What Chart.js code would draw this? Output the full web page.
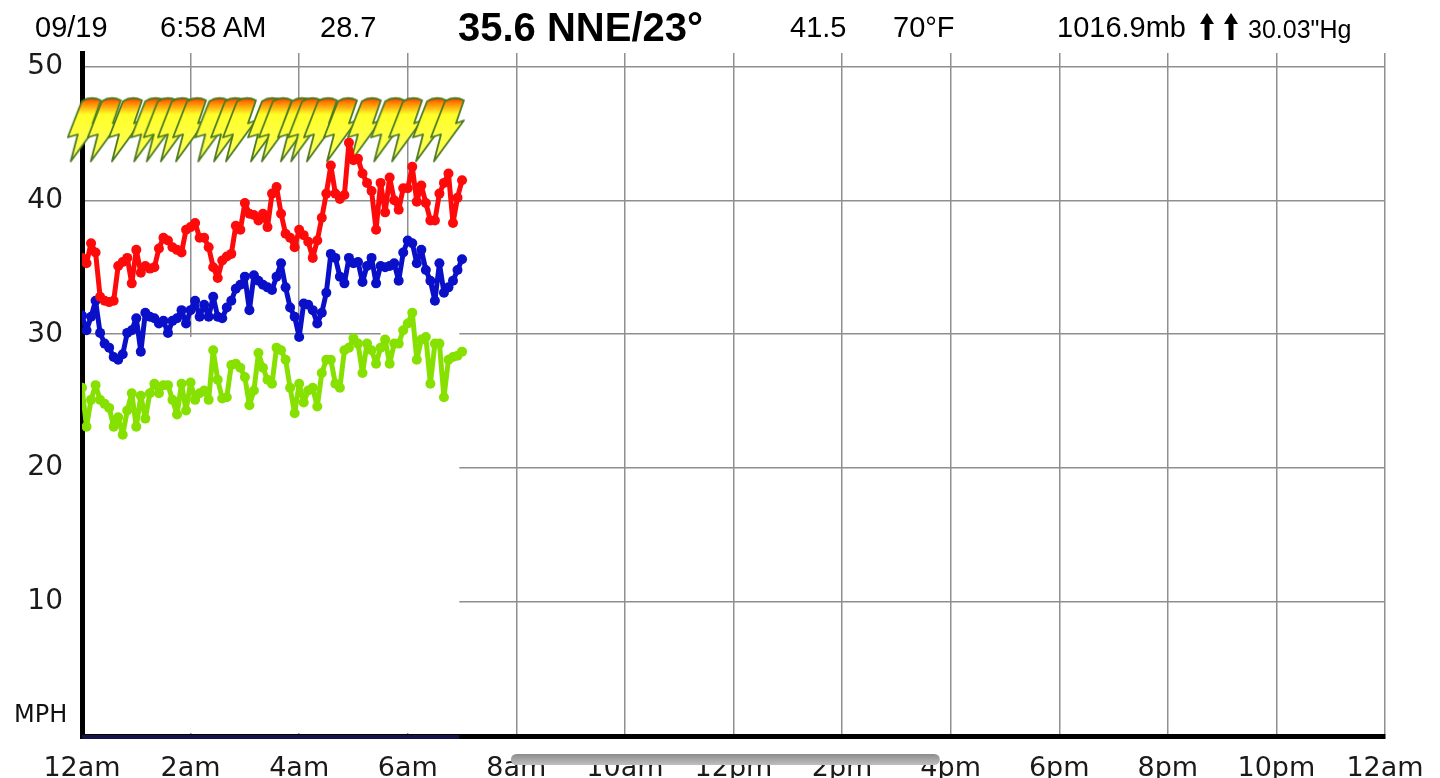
<!DOCTYPE html>
<html>
<head>
<meta charset="utf-8">
<script src="https://cdn.jsdelivr.net/npm/chart.js@4.4.1/dist/chart.umd.min.js"></script>
<style>
  html, body { margin: 0; padding: 0; background: #fff; overflow: hidden; }
  #wrap { position: relative; width: 1440px; height: 778px; overflow: hidden; }
  #chart { position: absolute; left: 0; top: 0; }
  .hd { position: absolute; top: 9px; line-height: 36px; font-family: "Liberation Sans", Arial, sans-serif;
        font-size: 29px; color: #000; white-space: nowrap; }
  .big { font-weight: bold; font-size: 40px; top: 6px; line-height: 42px; }
  .sm { font-size: 25px; top: 11px; }
  .arr { position: absolute; top: 13px; }
  #mph { position: absolute; left: 14px; top: 700px; font-family: "DejaVu Sans", sans-serif; font-size: 24px; color: #111; }
</style>
</head>
<body>
<div id="wrap">
  <canvas id="chart" width="1440" height="800"></canvas>
  <div class="hd" style="left:35px">09/19</div>
  <div class="hd" style="left:160px">6:58 AM</div>
  <div class="hd" style="left:320px">28.7</div>
  <div class="hd big" style="left:458px">35.6 NNE/23°</div>
  <div class="hd" style="left:790px">41.5</div>
  <div class="hd" style="left:893px">70°F</div>
  <div class="hd" style="left:1057px">1016.9mb</div>
  <svg class="arr" style="left:1200px" width="40" height="28" viewBox="0 0 40 28" aria-label="rising">
    <polygon points="7,0 14,11 9.5,11 9.5,27 4.5,27 4.5,11 0,11" fill="#000"/>
    <polygon points="31,0 38,11 33.5,11 33.5,27 28.5,27 28.5,11 24,11" fill="#000"/>
  </svg>
  <div class="hd sm" style="left:1248px">30.03"Hg</div>
  <div id="mph">MPH</div>
</div>
<script>
// sample times, minutes after midnight (5 minute readings)
const sampleMinutes = [0, 5, 10, 15, 20, 25, 30, 35, 40, 45, 50, 55,
  60, 65, 70, 75, 80, 85, 90, 95, 100, 105, 110, 115,
  120, 125, 130, 135, 140, 145, 150, 155, 160, 165, 170, 175,
  180, 185, 190, 195, 200, 205, 210, 215, 220, 225, 230, 235,
  240, 245, 250, 255, 260, 265, 270, 275, 280, 285, 290, 295,
  300, 305, 310, 315, 320, 325, 330, 335, 340, 345, 350, 355,
  360, 365, 370, 375, 380, 385, 390, 395, 400, 405, 410, 415, 420];

// gust (mph)
const gustMph = [35.7, 35.3, 36.8, 36.1, 32.8, 32.5, 32.4, 32.5, 35.1, 35.4,
  35.7, 33.8, 36.3, 34.6, 35.1, 34.9, 35.0, 36.4, 37.2, 37.0,
  36.5, 36.3, 36.1, 37.8, 38.0, 38.3, 37.2, 37.2, 36.5, 35.0,
  34.2, 35.5, 35.8, 36.0, 38.1, 37.8, 39.8, 39.0, 38.9, 38.5,
  39.0, 38.0, 40.5, 41.0, 39.0, 37.5, 37.2, 36.5, 37.8, 37.4,
  36.9, 35.7, 37.0, 38.7, 40.5, 42.6, 40.5, 40.1, 40.4, 44.3,
  43.0, 43.1, 42.0, 41.3, 40.7, 37.8, 41.3, 39.1, 41.7, 40.0,
  39.3, 40.9, 40.9, 42.5, 39.9, 41.1, 39.8, 38.5, 38.5, 40.5,
  41.3, 42.0, 38.3, 40.2, 41.5];

// wind speed (mph)
const windMph = [31.4, 30.3, 31.3, 32.5, 30.1, 29.3, 29.0, 28.3, 28.1, 28.5,
  30.1, 30.3, 31.2, 28.7, 31.6, 31.3, 31.2, 30.8, 31.0, 30.1,
  31.0, 31.2, 31.8, 30.8, 31.8, 32.5, 31.3, 32.2, 31.3, 32.8,
  31.3, 31.2, 32.0, 32.5, 33.4, 33.7, 34.3, 31.8, 34.4, 34.0,
  33.7, 33.5, 33.3, 34.3, 35.3, 33.5, 32.0, 31.3, 29.8, 32.3,
  32.2, 31.8, 30.8, 31.6, 33.1, 36.0, 35.7, 34.3, 33.8, 35.7,
  35.3, 35.4, 33.9, 35.1, 35.7, 33.8, 35.1, 35.0, 35.1, 35.3,
  34.0, 36.1, 37.0, 36.8, 35.3, 36.3, 34.8, 34.0, 32.5, 35.3,
  33.1, 33.5, 34.0, 34.8, 35.6];

// average wind (mph)
const avgMph = [26.0, 23.1, 25.1, 26.2, 25.1, 24.8, 24.5, 23.1, 23.8, 22.5,
  24.3, 25.6, 23.1, 25.4, 23.7, 25.6, 26.3, 25.6, 26.2, 26.2,
  25.1, 24.0, 26.3, 24.3, 26.4, 25.1, 25.6, 25.8, 25.1, 28.8,
  26.6, 25.2, 25.3, 27.7, 27.8, 27.5, 26.8, 24.7, 25.8, 28.6,
  27.5, 26.6, 26.3, 29.0, 28.8, 28.1, 26.0, 24.1, 26.3, 24.9,
  25.8, 26.0, 24.6, 27.1, 28.1, 28.1, 26.3, 26.0, 28.8, 29.0,
  29.7, 29.3, 27.1, 29.3, 28.8, 27.8, 29.0, 29.6, 27.8, 29.3,
  29.3, 30.3, 30.8, 31.6, 28.1, 29.6, 29.8, 26.3, 29.3, 29.3,
  25.3, 28.1, 28.3, 28.4, 28.7];

// lightning strike markers (hours)
const boltHours = [0.05, 0.42, 0.81, 1.22, 1.45, 1.71, 1.99, 2.4, 2.69, 2.91,
  3.37, 3.57, 3.92, 4.11, 4.4, 4.77, 5.21, 5.64, 5.97, 6.41, 6.74];
const boltLevel = 45.3;

const xTickLabels = ['12am', '2am', '4am', '6am', '8am', '10am', '12pm',
  '2pm', '4pm', '6pm', '8pm', '10pm', '12am'];

function toPoints(vals) {
  return vals.map((v, i) => ({ x: sampleMinutes[i] / 60, y: v }));
}

function makeBolt() {
  const c = document.createElement('canvas');
  c.width = 36; c.height = 68;
  const g = c.getContext('2d');
  const grad = g.createLinearGradient(0, 0, 0, 68);
  grad.addColorStop(0, '#ff0800');
  grad.addColorStop(0.1, '#ff7a00');
  grad.addColorStop(0.28, '#ffff28');
  grad.addColorStop(1, '#ffff66');
  g.beginPath();
  g.moveTo(15, 6);
  g.quadraticCurveTo(24, 0, 34, 5);
  g.lineTo(26, 28); g.lineTo(34, 25);
  g.lineTo(4, 66); g.lineTo(11, 39); g.lineTo(1, 42);
  g.closePath();
  g.fillStyle = grad; g.fill();
  g.lineWidth = 1.8; g.lineJoin = 'round'; g.strokeStyle = '#4b7a22'; g.stroke();
  return c;
}

// the source picture has blanked-out grid in the lower left
const maskPlugin = {
  id: 'mask',
  beforeDatasetsDraw(chart) {
    const { ctx, chartArea: a, scales: { x, y } } = chart;
    const r = x.getPixelForValue(6.95);
    ctx.save();
    ctx.fillStyle = '#fff';
    const t = y.getPixelForValue(29.8);
    ctx.fillRect(a.left + 3, t, r - a.left - 3, a.bottom - 3 - t);
    const t2 = y.getPixelForValue(36.8);
    const l2 = x.getPixelForValue(5.5);
    ctx.fillRect(l2, t2, r - l2, t - t2);
    ctx.restore();
  },
  afterDraw(chart) {
    const { ctx, chartArea: a, scales: { x } } = chart;
    ctx.save();
    ctx.strokeStyle = '#14144a';
    ctx.lineWidth = 4;
    ctx.beginPath();
    ctx.moveTo(a.left, a.bottom + 1);
    ctx.lineTo(x.getPixelForValue(6.95), a.bottom + 1);
    ctx.stroke();
    // grey scroll bar under the axis
    const l = x.getPixelForValue(7.9), r = x.getPixelForValue(15.8);
    const grad = ctx.createLinearGradient(0, 754, 0, 766);
    grad.addColorStop(0, '#8c8c8c');
    grad.addColorStop(1, '#c4c4c4');
    ctx.fillStyle = grad;
    ctx.beginPath();
    ctx.roundRect(l, 754, r - l, 11, 5.5);
    ctx.fill();
    ctx.restore();
  }
};

const lineStyle = (color) => ({
  borderColor: color, backgroundColor: color, pointBackgroundColor: color,
  borderWidth: 5, borderJoinStyle: 'round', borderCapStyle: 'round',
  pointRadius: 5, pointBorderWidth: 0, tension: 0, order: 1
});

new Chart(document.getElementById('chart'), {
  type: 'line',
  data: {
    datasets: [
      { label: 'Lightning', data: boltHours.map(h => ({ x: h, y: boltLevel })),
        showLine: false, pointStyle: makeBolt(), order: 10, clip: false },
      { label: 'Gust', data: toPoints(gustMph), ...lineStyle('#ff0a0a') },
      { label: 'Wind', data: toPoints(windMph), ...lineStyle('#0a10c8') },
      { label: 'Average', data: toPoints(avgMph), ...lineStyle('#86e000') }
    ]
  },
  options: {
    responsive: false,
    animation: false,
    layout: { padding: { top: 53, right: 55, left: 0, bottom: 0 } },
    plugins: { legend: { display: false }, tooltip: { enabled: false } },
    scales: {
      x: {
        type: 'linear', min: 0, max: 24,
        afterFit: (s) => { s.height = 64; s.paddingLeft = 0; s.paddingRight = 0; },
        grid: { color: '#8f8f8f', lineWidth: 1.5, drawTicks: false },
        border: { color: '#000', width: 5 },
        ticks: {
          stepSize: 2, padding: 17, color: '#1a1a1a', maxRotation: 0, autoSkip: false,
          font: { family: 'DejaVu Sans', size: 27 },
          callback: (v) => xTickLabels[v / 2]
        }
      },
      y: {
        min: 0, max: 51,
        afterFit: (s) => { s.width = 82; s.paddingTop = 0; s.paddingBottom = 0; },
        grid: { color: '#8f8f8f', lineWidth: 1.5, drawTicks: false },
        border: { color: '#000', width: 5 },
        ticks: {
          stepSize: 10, padding: 19, includeBounds: false, color: '#1a1a1a',
          font: { family: 'DejaVu Sans', size: 28 },
          callback: (v) => (v === 0 ? '' : v)
        }
      }
    }
  },
  plugins: [maskPlugin]
});
</script>
</body>
</html>
